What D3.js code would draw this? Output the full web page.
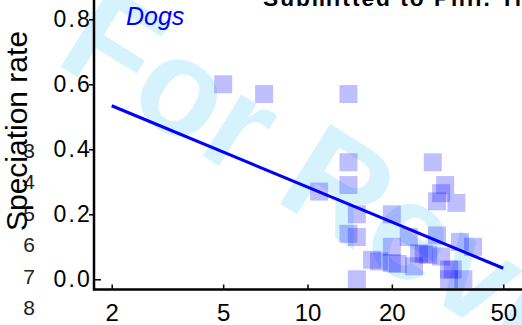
<!DOCTYPE html>
<html>
<head>
<meta charset="utf-8">
<script src="https://cdn.jsdelivr.net/npm/d3@7"></script>
<style>
  html, body { margin: 0; padding: 0; background: #fff; }
  svg { display: block; font-family: "Liberation Sans", Arial, sans-serif; }
</style>
</head>
<body>
<svg id="chart" width="522" height="325"></svg>
<script>
// Clade body size (x, log scale) against speciation rate (y)
const bodySize = [5, 7, 14, 14, 14, 11, 15, 14, 15, 17, 18, 15,
                  28, 31, 30, 29, 34, 20, 29, 23, 20, 35, 39, 25,
                  26, 27, 30, 20, 21, 24, 32, 33, 32, 36];
const speciationRate = [0.60, 0.57, 0.57, 0.36, 0.29, 0.27, 0.20, 0.14, 0.13, 0.06, 0.055, 0.0,
                        0.36, 0.29, 0.265, 0.24, 0.235, 0.20, 0.135, 0.13, 0.10, 0.115, 0.10, 0.08,
                        0.078, 0.075, 0.07, 0.05, 0.047, 0.04, 0.03, 0.03, 0.0, 0.0];
// fitted trend (endpoints of the regression line)
const fitX = [2, 50];
const fitY = [0.534, 0.034];

const xTicks = [2, 5, 10, 20, 50];
const yTicks = [0, 0.2, 0.4, 0.6, 0.8];
const lineNumbers = ["3", "4", "5", "6", "7", "8"];

const svg = d3.select("#chart");

const x = d3.scaleLog().domain([2, 50]).range([111.7, 503.3]);
const y = d3.scaleLinear().domain([0, 0.8]).range([279.3, 19.3]);

const axisX0 = 94, axisY0 = 289.5;

// review watermark
svg.append("text")
  .attr("transform", "translate(53,62) rotate(32)")
  .attr("font-size", 137)
  .attr("font-weight", "bold")
  .attr("fill", "#d6f2fc")
  .text("For Review");

// points
svg.append("g")
  .selectAll("rect")
  .data(bodySize.map((d, i) => [d, speciationRate[i]]))
  .join("rect")
  .attr("x", d => x(d[0]) - 9)
  .attr("y", d => y(d[1]) - 9)
  .attr("width", 18)
  .attr("height", 18)
  .attr("fill", "rgba(0,0,255,0.25)");

// trend line
svg.append("path")
  .datum(fitX.map((d, i) => [d, fitY[i]]))
  .attr("d", d3.line().x(d => x(d[0])).y(d => y(d[1])))
  .attr("fill", "none")
  .attr("stroke", "#0000ff")
  .attr("stroke-width", 3);

// x axis (ticks pointing inward)
const gx = svg.append("g").attr("transform", `translate(0,${axisY0})`)
  .call(d3.axisBottom(x).tickValues(xTicks).tickFormat(d3.format("d")).tickSizeInner(-5).tickSizeOuter(0).tickPadding(14));
gx.select(".domain").remove();
gx.selectAll("line").attr("stroke", "#000").attr("stroke-width", 1.5);
gx.selectAll("text").attr("font-size", 24).attr("fill", "#000")
  .attr("font-family", "Liberation Sans, Arial, sans-serif");

// y axis
const gy = svg.append("g").attr("transform", `translate(${axisX0},0)`)
  .call(d3.axisLeft(y).tickValues(yTicks).tickFormat(d3.format(".1f")).tickSizeInner(5).tickSizeOuter(0));
gy.select(".domain").remove();
gy.selectAll(".tick line").attr("stroke", "#000").attr("stroke-width", 1.5)
  .attr("x2", d => d === 0 ? 7 : -5);
gy.selectAll("text").attr("font-size", 23).attr("fill", "#000")
  .attr("x", -2)
  .attr("letter-spacing", 2.2)
  .attr("font-family", "Liberation Sans, Arial, sans-serif");

// L-shaped frame
svg.append("path")
  .attr("d", `M${axisX0},0V${axisY0}H522`)
  .attr("fill", "none")
  .attr("stroke", "#000")
  .attr("stroke-width", 2.5);

// manuscript line numbers in the margin
svg.append("g").selectAll("text")
  .data(lineNumbers)
  .join("text")
  .attr("x", 29)
  .attr("y", (d, i) => 315 - (lineNumbers.length - 1 - i) * 31.5)
  .attr("text-anchor", "middle")
  .attr("font-size", 21)
  .attr("fill", "#222")
  .text(d => d);

// y axis title
svg.append("text")
  .attr("transform", "translate(27,131) rotate(-90)")
  .attr("text-anchor", "middle")
  .attr("font-size", 30)
  .attr("fill", "#000")
  .text("Speciation rate");

// panel label
svg.append("text")
  .attr("x", 126)
  .attr("y", 25)
  .attr("font-size", 25)
  .attr("font-style", "italic")
  .attr("fill", "#0000ff")
  .text("Dogs");

// running header
svg.append("text")
  .attr("x", 263)
  .attr("y", 6)
  .attr("font-size", 22.7)
  .attr("font-weight", "bold")
  .attr("letter-spacing", 2.0)
  .attr("fill", "#000")
  .text("Submitted to Phil. Trans. R. Soc. B");
</script>
</body>
</html>
